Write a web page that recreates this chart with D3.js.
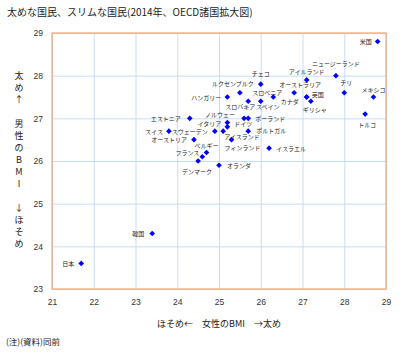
<!DOCTYPE html>
<html>
<head>
<meta charset="utf-8">
<script src="https://cdn.jsdelivr.net/npm/d3@7"></script>
<style>
  body { margin: 0; background: #fff; }
  text { font-family: "Noto Sans CJK JP", "Noto Sans", sans-serif; }
</style>
</head>
<body>
<div id="chart"></div>
<script>
let width = 412,
    height = 354,
    margin = ({ top: 33, right: 26, bottom: 65, left: 52 });

// data
const countries = ["米国", "ニュージーランド", "アイルランド", "チェコ", "チリ", "メキシコ",
  "オーストラリア", "スロベニア", "カナダ", "英国", "ギリシャ", "ルクセンブルク", "ハンガリー",
  "スロバキア", "スペイン", "ノルウェー", "ポーランド", "イタリア", "ドイツ", "エストニア",
  "スイス", "スウェーデン", "アイスランド", "ポルトガル", "オーストリア", "フィンランド",
  "イスラエル", "トルコ", "ベルギー", "フランス", "デンマーク", "オランダ", "韓国", "日本"];
const femaleBMI = [28.8, 27.8, 27.1, 26.0, 28.0, 28.7, 26.8, 26.3, 27.1, 27.1, 27.2, 25.5, 25.2,
  25.7, 26.0, 25.6, 25.7, 25.2, 25.2, 24.3, 23.8, 24.9, 25.1, 25.7, 24.4, 25.3,
  26.2, 28.5, 24.7, 24.6, 24.5, 25.0, 23.4, 21.7];
const maleBMI = [28.8, 28.0, 27.9, 27.8, 27.6, 27.5, 27.6, 27.5, 27.5, 27.5, 27.4, 27.6, 27.5,
  27.4, 27.4, 27.0, 27.0, 26.9, 26.8, 27.0, 26.7, 26.7, 26.7, 26.7, 26.5, 26.5,
  26.3, 27.1, 26.2, 26.1, 26.0, 25.9, 24.3, 23.6];
const xTicks = [21, 22, 23, 24, 25, 26, 27, 28, 29];
const yTicks = [23, 24, 25, 26, 27, 28, 29];

const title = "太めな国民、スリムな国民(2014年、OECD諸国拡大図)";
const xTitle = "ほそめ←　女性のBMI　→太め";
const yTitle = ["太", "め", "↑", " ", "男", "性", "の", "B", "M", "I", " ", "↓", "ほ", "そ", "め"];
const note = "(注)(資料)同前";

// label placement: [anchor, dx, dy]
const labelPlace = {
  "米国": ["end", -6, 0], "ニュージーランド": ["middle", 0, -12], "アイルランド": ["middle", 0, -8],
  "チェコ": ["middle", 0, -11], "チリ": ["middle", 2, -10], "メキシコ": ["middle", 0, -8],
  "オーストラリア": ["middle", 6, -8], "スロベニア": ["middle", -6, -5], "カナダ": ["end", -8, 4],
  "英国": ["start", 5, -3], "ギリシャ": ["middle", 4, 8], "ルクセンブルク": ["middle", -7, -9],
  "ハンガリー": ["end", -6, 0], "スロバキア": ["middle", -8, 5], "スペイン": ["middle", 7, 5],
  "ノルウェー": ["end", -9, -3.5], "ポーランド": ["start", 7, 0], "イタリア": ["end", -6, 1],
  "ドイツ": ["start", 7, -3], "エストニア": ["end", -9, 0], "スイス": ["end", -6, 0],
  "スウェーデン": ["end", -7, 0], "アイスランド": ["start", 1, 5], "ポルトガル": ["start", 8, -1],
  "オーストリア": ["end", -7, 0], "フィンランド": ["middle", 11, 8], "イスラエル": ["start", 7, 0],
  "トルコ": ["middle", 2, 10], "ベルギー": ["middle", 0, -7], "フランス": ["end", -3, -4],
  "デンマーク": ["middle", -1, 10], "オランダ": ["start", 8, 0], "韓国": ["end", -8, 0],
  "日本": ["end", -7, 0]
};

const data = countries.map((c, i) => ({ name: c, f: femaleBMI[i], m: maleBMI[i] }));

const svg = d3.select("#chart")
  .append("svg")
  .attr("width", width)
  .attr("height", height)
  .attr("viewBox", [0, 0, width, height]);

let x = d3.scaleLinear()
  .domain([21, 29])
  .range([margin.left, width - margin.right]);

let y = d3.scaleLinear()
  .domain([23, 29])
  .range([height - margin.bottom, margin.top]);

const plotH = height - margin.top - margin.bottom,
      plotW = width - margin.left - margin.right;

// grid + tick labels
svg.append("g")
  .attr("transform", `translate(0,${height - margin.bottom})`)
  .attr("class", "x-axis")
  .call(d3.axisBottom(x).tickValues(xTicks).tickFormat(d3.format("d")).tickSize(-plotH).tickPadding(10))
  .call(g => g.select(".domain").remove());

svg.append("g")
  .attr("transform", `translate(${margin.left},0)`)
  .attr("class", "y-axis")
  .call(d3.axisLeft(y).tickValues(yTicks).tickFormat(d3.format("d")).tickSize(-plotW).tickPadding(9))
  .call(g => g.select(".domain").remove());

svg.selectAll(".tick line").attr("stroke", "#c6def6").attr("stroke-width", 1);
svg.selectAll(".tick text")
  .attr("fill", "#333")
  .style("font-family", "Arial, 'Liberation Sans', sans-serif")
  .style("font-size", "8.5px");

svg.append("rect")
  .attr("x", x(21))
  .attr("y", y(29))
  .attr("width", x(29) - x(21))
  .attr("height", y(23) - y(29))
  .attr("fill", "none")
  .attr("stroke", "#f8a46a")
  .attr("stroke-width", 1.2);

// points
svg.append("g")
  .attr("fill", "#0000ff")
  .selectAll("path")
  .data(data)
  .join("path")
  .attr("d", d3.symbol(d3.symbolSquare, 16))
  .attr("transform", d => `translate(${x(d.f)},${y(d.m)}) rotate(45)`);

// labels
svg.append("g")
  .attr("fill", "#222")
  .style("font-size", "6px")
  .selectAll("text")
  .data(data)
  .join("text")
  .attr("x", d => x(d.f) + labelPlace[d.name][1])
  .attr("y", d => y(d.m) + labelPlace[d.name][2])
  .attr("text-anchor", d => labelPlace[d.name][0])
  .attr("dominant-baseline", "central")
  .text(d => d.name);

// titles
svg.append("text")
  .attr("x", 7)
  .attr("y", 16)
  .attr("fill", "#222")
  .style("font-size", "10px")
  .text(title);

svg.append("text")
  .attr("x", 219)
  .attr("y", 327)
  .attr("text-anchor", "middle")
  .attr("fill", "#222")
  .style("font-size", "9px")
  .text(xTitle);

let yy = 75;
const yt = svg.append("g").attr("fill", "#222").style("font-size", "9px");
yTitle.forEach(ch => {
  yt.append("text")
    .attr("x", 19)
    .attr("y", yy)
    .attr("text-anchor", "middle")
    .attr("dominant-baseline", "central")
    .text(ch);
  yy += 12;
});

svg.append("text")
  .attr("x", 6)
  .attr("y", 345)
  .attr("fill", "#222")
  .style("font-size", "8.5px")
  .text(note);
</script>
</body>
</html>
